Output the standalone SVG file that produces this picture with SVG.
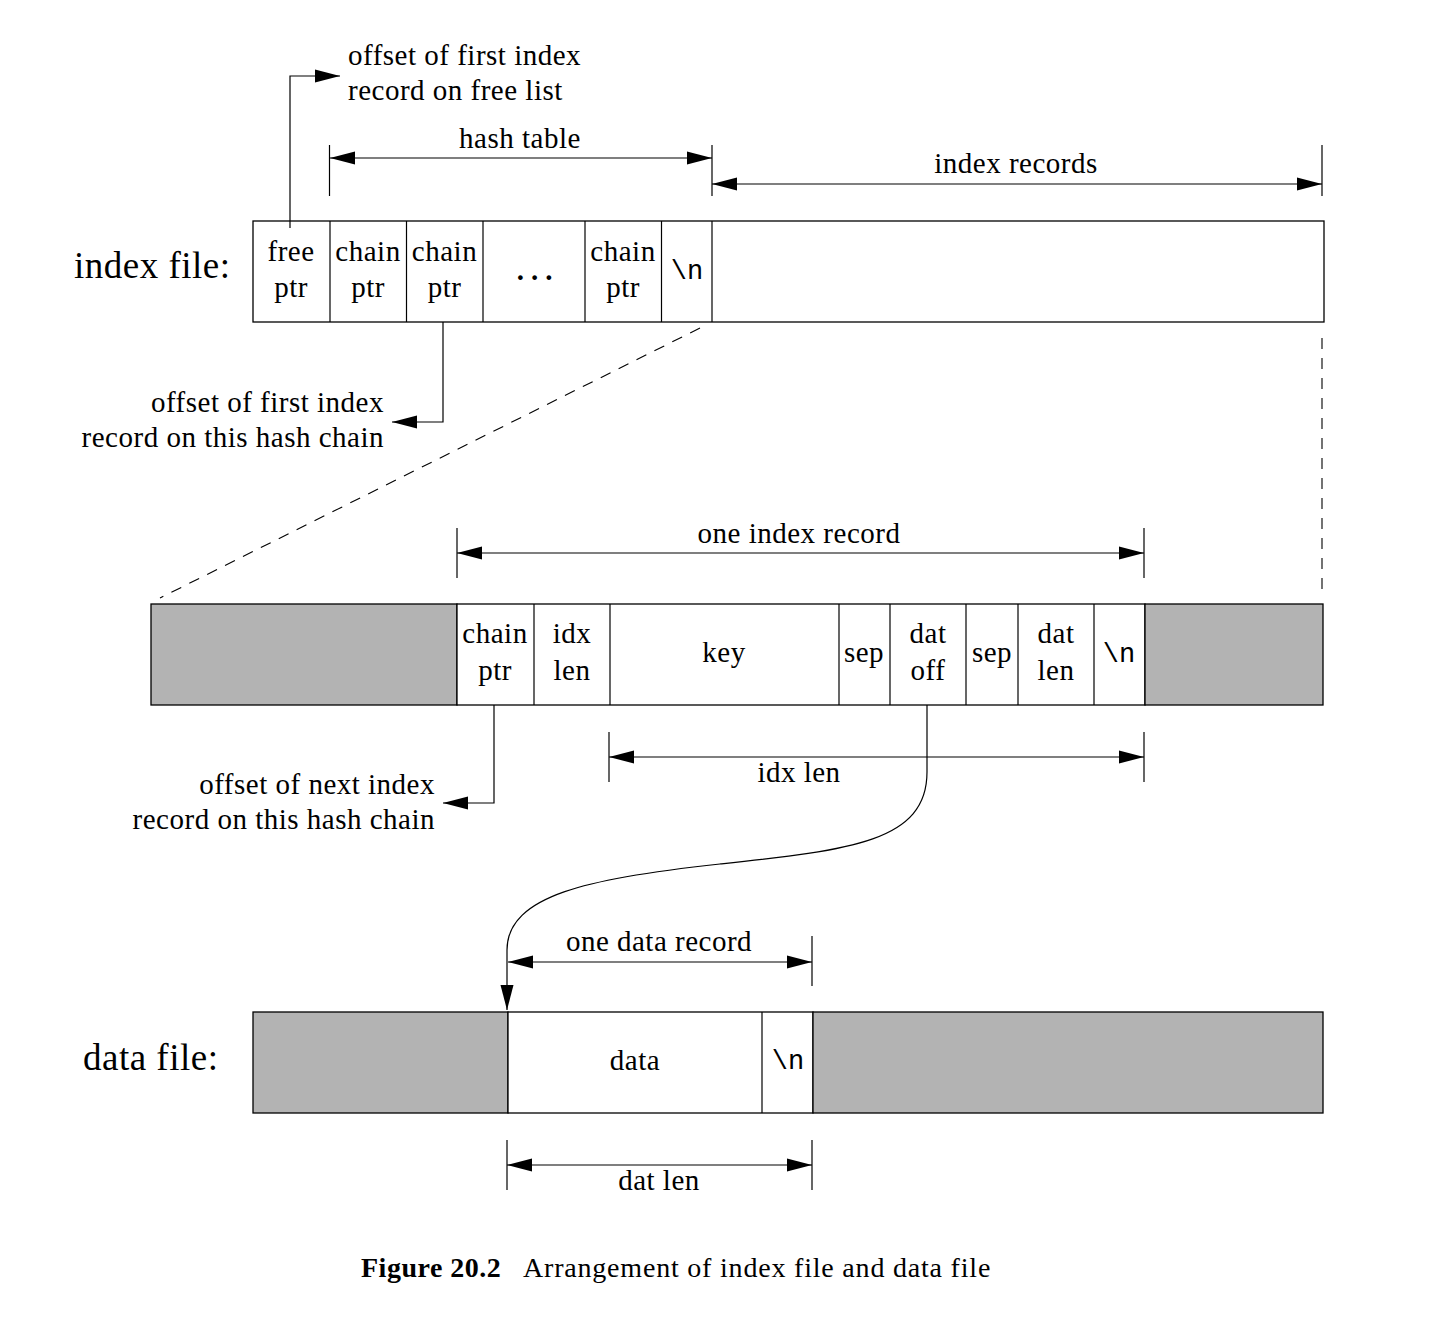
<svg xmlns="http://www.w3.org/2000/svg" width="1446" height="1322" viewBox="0 0 1446 1322">
<style>
text{font-family:"Liberation Serif","Times New Roman",serif;font-size:29px;letter-spacing:0.5px;fill:#000}
.mono{font-family:"Liberation Mono","Courier New",monospace;font-size:27px;letter-spacing:0}
.big{font-size:37px;letter-spacing:0.5px}
.c{text-anchor:middle}
.r{text-anchor:end}
.cell{fill:#fff;stroke:#000;stroke-width:1.3}
.gray{fill:#b3b3b3;stroke:#000;stroke-width:1.3}
.ln{fill:none;stroke:#000;stroke-width:1.2}
.dash{fill:none;stroke:#000;stroke-width:1.1;stroke-dasharray:11 9}
</style>
<defs>
<marker id="ah" markerUnits="userSpaceOnUse" markerWidth="26" markerHeight="14" refX="25" refY="6.5" orient="auto-start-reverse" viewBox="0 0 26 13">
<path d="M0,0 L25,6.5 L0,13 z" fill="#000"/>
</marker>
</defs>
<rect width="1446" height="1322" fill="#fff"/>

<g id="index-file">
<text class="big" x="74" y="278">index file:</text>
<rect class="cell" x="253" y="221" width="1071" height="101"/>
<line class="ln" x1="330" y1="221" x2="330" y2="322"/>
<line class="ln" x1="406.5" y1="221" x2="406.5" y2="322"/>
<line class="ln" x1="483" y1="221" x2="483" y2="322"/>
<line class="ln" x1="585" y1="221" x2="585" y2="322"/>
<line class="ln" x1="661.5" y1="221" x2="661.5" y2="322"/>
<line class="ln" x1="712" y1="221" x2="712" y2="322"/>
<text class="c" x="291" y="261">free</text><text class="c" x="291" y="297">ptr</text>
<text class="c" x="368" y="261">chain</text><text class="c" x="368" y="297">ptr</text>
<text class="c" x="444.5" y="261">chain</text><text class="c" x="444.5" y="297">ptr</text>
<text class="c" x="538" y="280" style="font-weight:bold;letter-spacing:7px">...</text>
<text class="c" x="623" y="261">chain</text><text class="c" x="623" y="297">ptr</text>
<text class="c mono" x="687" y="279">\n</text>
</g>

<g id="index-record">
<rect class="gray" x="151" y="604" width="306" height="101"/>
<rect class="cell" x="457" y="604" width="688" height="101"/>
<rect class="gray" x="1145" y="604" width="178" height="101"/>
<line class="ln" x1="534" y1="604" x2="534" y2="705"/>
<line class="ln" x1="610" y1="604" x2="610" y2="705"/>
<line class="ln" x1="839" y1="604" x2="839" y2="705"/>
<line class="ln" x1="890" y1="604" x2="890" y2="705"/>
<line class="ln" x1="966" y1="604" x2="966" y2="705"/>
<line class="ln" x1="1018" y1="604" x2="1018" y2="705"/>
<line class="ln" x1="1094" y1="604" x2="1094" y2="705"/>
<text class="c" x="495" y="643">chain</text><text class="c" x="495" y="680">ptr</text>
<text class="c" x="572" y="643">idx</text><text class="c" x="572" y="680">len</text>
<text class="c" x="724" y="662">key</text>
<text class="c" x="864" y="662">sep</text>
<text class="c" x="928" y="643">dat</text><text class="c" x="928" y="680">off</text>
<text class="c" x="992" y="662">sep</text>
<text class="c" x="1056" y="643">dat</text><text class="c" x="1056" y="680">len</text>
<text class="c mono" x="1119" y="662">\n</text>
</g>

<g id="data-file">
<text class="big" x="83" y="1070">data file:</text>
<rect class="gray" x="253" y="1012" width="255" height="101"/>
<rect class="cell" x="508" y="1012" width="305" height="101"/>
<rect class="gray" x="813" y="1012" width="510" height="101"/>
<line class="ln" x1="762" y1="1012" x2="762" y2="1113"/>
<text class="c" x="635" y="1070">data</text>
<text class="c mono" x="788" y="1069">\n</text>
</g>

<g id="labels">
<text x="348" y="65">offset of first index</text>
<text x="348" y="100">record on free list</text>
<text class="c" x="520" y="148">hash table</text>
<text class="c" x="1016" y="173">index records</text>
<text class="r" x="384" y="412">offset of first index</text>
<text class="r" x="384" y="447">record on this hash chain</text>
<text class="c" x="799" y="543">one index record</text>
<text class="c" x="799" y="782">idx len</text>
<text class="r" x="435" y="794">offset of next index</text>
<text class="r" x="435" y="829">record on this hash chain</text>
<text class="c" x="659" y="951">one data record</text>
<text class="c" x="659" y="1190">dat len</text>
</g>

<g id="connectors">
<polyline class="ln" points="290,228 290,76 340,76" marker-end="url(#ah)"/>
<line class="ln" x1="330" y1="158" x2="712" y2="158" marker-start="url(#ah)" marker-end="url(#ah)"/>
<line class="ln" x1="329.5" y1="145" x2="329.5" y2="196"/>
<line class="ln" x1="712" y1="145" x2="712" y2="196"/>
<line class="ln" x1="712" y1="184" x2="1322" y2="184" marker-start="url(#ah)" marker-end="url(#ah)"/>
<line class="ln" x1="1322" y1="145" x2="1322" y2="196"/>
<polyline class="ln" points="443,322 443,422 392,422" marker-end="url(#ah)"/>
<line class="dash" x1="700" y1="328" x2="160" y2="598"/>
<line class="dash" x1="1322" y1="338" x2="1322" y2="598"/>
<line class="ln" x1="457" y1="553" x2="1144" y2="553" marker-start="url(#ah)" marker-end="url(#ah)"/>
<line class="ln" x1="457" y1="528" x2="457" y2="578"/>
<line class="ln" x1="1144" y1="528" x2="1144" y2="578"/>
<line class="ln" x1="609" y1="757" x2="1144" y2="757" marker-start="url(#ah)" marker-end="url(#ah)"/>
<line class="ln" x1="609" y1="732" x2="609" y2="782"/>
<line class="ln" x1="1144" y1="732" x2="1144" y2="782"/>
<polyline class="ln" points="494,705 494,803 443,803" marker-end="url(#ah)"/>
<path class="ln" d="M927,705 L927,772 C927,842 850,850 720,864 C590,878 507,895 507,950 L507,1010" marker-end="url(#ah)"/>
<line class="ln" x1="508" y1="962" x2="812" y2="962" marker-start="url(#ah)" marker-end="url(#ah)"/>
<line class="ln" x1="812" y1="936" x2="812" y2="986"/>
<line class="ln" x1="507" y1="1165" x2="812" y2="1165" marker-start="url(#ah)" marker-end="url(#ah)"/>
<line class="ln" x1="507" y1="1140" x2="507" y2="1190"/>
<line class="ln" x1="812" y1="1140" x2="812" y2="1190"/>
</g>

<g id="caption">
<text x="361" y="1277" style="font-weight:bold;font-size:28px">Figure 20.2</text>
<text x="523" y="1277" style="font-size:28px;letter-spacing:0.8px">Arrangement of index file and data file</text>
</g>
</svg>
